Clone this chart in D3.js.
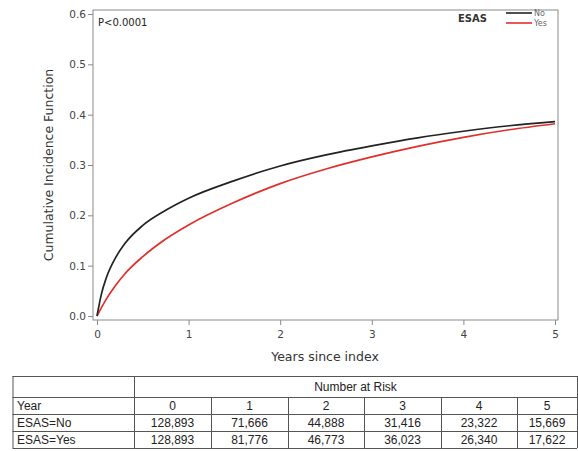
<!DOCTYPE html>
<html>
<head>
<meta charset="utf-8">
<script src="https://cdn.jsdelivr.net/npm/d3@7"></script>
<style>
  body { margin: 0; background: #fff; }
  svg { display: block; }
</style>
</head>
<body>
<svg id="chart" width="578" height="451"></svg>
<script>
// curve readings (years since index)
const years = [0, 0.05, 0.1, 0.2, 0.3, 0.5, 0.75, 1.0, 1.5, 2.0, 2.5, 3.0, 3.5, 4.0, 4.5, 5.0];
const cifNo = [0, 0.045, 0.075, 0.115, 0.143, 0.180, 0.210, 0.234, 0.269, 0.298, 0.320, 0.338, 0.354, 0.367, 0.378, 0.386];
const cifYes = [0, 0.017, 0.033, 0.060, 0.083, 0.118, 0.153, 0.181, 0.226, 0.263, 0.292, 0.316, 0.337, 0.355, 0.370, 0.382];

const xTicks = [0, 1, 2, 3, 4, 5];
const yTicks = [0, 0.1, 0.2, 0.3, 0.4, 0.5, 0.6];

// number at risk table
const riskYears = ["0", "1", "2", "3", "4", "5"];
const riskNo = ["128,893", "71,666", "44,888", "31,416", "23,322", "15,669"];
const riskYes = ["128,893", "81,776", "46,773", "36,023", "26,340", "17,622"];

const svg = d3.select("#chart");

const box = { left: 93, right: 558, top: 10, bottom: 320 };

const x = d3.scaleLinear().domain([0, 5]).range([97, 555]);
const y = d3.scaleLinear().domain([0, 0.6]).range([316, 14]);

const axisFont = "'DejaVu Sans', sans-serif";

// frame
svg.append("rect")
    .attr("x", box.left)
    .attr("y", box.top)
    .attr("width", box.right - box.left)
    .attr("height", box.bottom - box.top)
    .attr("fill", "none")
    .attr("stroke", "#8a8a8a")
    .attr("stroke-width", 1);

const xAxis = svg.append("g")
    .attr("transform", `translate(0,${box.bottom})`)
    .call(d3.axisBottom(x).tickValues(xTicks).tickFormat(d3.format("d")).tickSize(5).tickPadding(6));
const yAxis = svg.append("g")
    .attr("transform", `translate(${box.left},0)`)
    .call(d3.axisLeft(y).tickValues(yTicks).tickFormat(d3.format(".1f")).tickSize(5).tickPadding(2));

[xAxis, yAxis].forEach(g => {
    g.select(".domain").remove();
    g.selectAll(".tick line").attr("stroke", "#8a8a8a");
    g.selectAll(".tick text")
        .attr("fill", "#444")
        .style("font-family", axisFont)
        .style("font-size", "10.5px");
});

svg.append("text")
    .attr("x", 325)
    .attr("y", 361)
    .attr("text-anchor", "middle")
    .attr("fill", "#333")
    .style("font-family", axisFont)
    .style("font-size", "12.5px")
    .text("Years since index");

svg.append("text")
    .attr("transform", "translate(53,165) rotate(-90)")
    .attr("text-anchor", "middle")
    .attr("fill", "#333")
    .style("font-family", axisFont)
    .style("font-size", "12.5px")
    .text("Cumulative Incidence Function");

svg.append("text")
    .attr("x", 98)
    .attr("y", 26)
    .attr("fill", "#222")
    .style("font-family", axisFont)
    .style("font-size", "10px")
    .text("P<0.0001");

// curves
const line = d3.line()
    .x((d, i) => x(years[i]))
    .y(d => y(d))
    .curve(d3.curveMonotoneX);

svg.append("path")
    .datum(cifYes)
    .attr("fill", "none")
    .attr("stroke", "#e0302c")
    .attr("stroke-width", 1.7)
    .attr("d", line);

svg.append("path")
    .datum(cifNo)
    .attr("fill", "none")
    .attr("stroke", "#222")
    .attr("stroke-width", 1.7)
    .attr("d", line);

// legend
svg.append("text")
    .attr("x", 487)
    .attr("y", 22)
    .attr("text-anchor", "end")
    .attr("fill", "#333")
    .style("font-family", axisFont)
    .style("font-size", "10px")
    .style("font-weight", "bold")
    .text("ESAS");

const legend = [{ label: "No", color: "#222" }, { label: "Yes", color: "#e0302c" }];
legend.forEach((d, i) => {
    const ly = 13 + i * 10;
    svg.append("line")
        .attr("x1", 506).attr("x2", 532)
        .attr("y1", ly).attr("y2", ly)
        .attr("stroke", d.color)
        .attr("stroke-width", 1.6);
    svg.append("text")
        .attr("x", 534)
        .attr("y", ly + 3)
        .attr("fill", "#666")
        .style("font-family", axisFont)
        .style("font-size", "8px")
        .text(d.label);
});

// number at risk table
const tableFont = "'Liberation Sans', 'Noto Sans', sans-serif";
const colEdges = [12.5, 134, 211, 288, 364, 441, 517, 577];
const rowEdges = [376, 397, 414, 431, 448];

const t = svg.append("g").attr("stroke", "#555").attr("stroke-width", 1);
// horizontal lines
rowEdges.forEach(r => {
    t.append("line").attr("x1", colEdges[0]).attr("x2", colEdges[colEdges.length - 1])
        .attr("y1", r + 0.5).attr("y2", r + 0.5);
});
// vertical lines
colEdges.forEach((c, i) => {
    const top = (i === 0 || i === 1 || i === colEdges.length - 1) ? rowEdges[0] : rowEdges[1];
    t.append("line").attr("x1", c + 0.5).attr("x2", c + 0.5)
        .attr("y1", top).attr("y2", rowEdges[rowEdges.length - 1]);
});

function cellText(str, xPos, row, anchor) {
    svg.append("text")
        .attr("x", xPos)
        .attr("y", (rowEdges[row] + rowEdges[row + 1]) / 2 + 4.5)
        .attr("text-anchor", anchor)
        .attr("fill", "#222")
        .style("font-family", tableFont)
        .style("font-size", "12px")
        .text(str);
}

cellText("Number at Risk", (colEdges[1] + colEdges[7]) / 2, 0, "middle");
const rows = [["Year", riskYears], ["ESAS=No", riskNo], ["ESAS=Yes", riskYes]];
rows.forEach(([label, vals], r) => {
    cellText(label, 17, r + 1, "start");
    vals.forEach((v, c) => cellText(v, (colEdges[c + 1] + colEdges[c + 2]) / 2, r + 1, "middle"));
});
</script>
</body>
</html>
